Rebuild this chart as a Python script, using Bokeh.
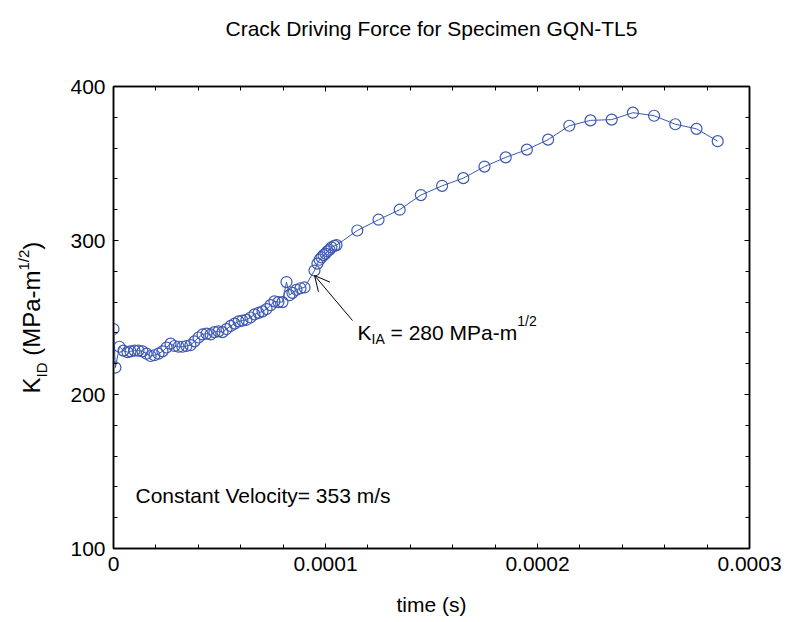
import math
from bokeh.plotting import figure
from bokeh.layouts import column, row
from bokeh.core.properties import value
from bokeh.models import (Range1d, FixedTicker, LinearAxis, Label, Arrow, OpenHead,
                          CustomJSTickFormatter, ColumnDataSource)
from bokeh.embed import file_html
from bokeh.resources import INLINE

# ---- data (time in s, K_ID in MPa-m^1/2) ----
time_s = [
    0.0e-6, 0.9e-6, 2.8e-6, 4.7e-6, 6.6e-6, 8.0e-6, 9.9e-6, 11.8e-6, 13.7e-6, 15.6e-6,
    17.5e-6, 19.3e-6, 21.2e-6, 23.1e-6, 25.0e-6, 26.9e-6, 28.8e-6, 30.7e-6, 32.5e-6, 34.4e-6,
    36.3e-6, 38.2e-6, 40.1e-6, 42.0e-6, 43.9e-6, 45.8e-6, 47.6e-6, 49.5e-6, 51.4e-6, 53.3e-6,
    55.2e-6, 57.1e-6, 59.0e-6, 60.8e-6, 62.7e-6, 64.6e-6, 66.5e-6, 68.4e-6, 70.3e-6, 72.2e-6,
    74.1e-6, 75.9e-6, 77.8e-6, 79.7e-6, 81.6e-6, 83.0e-6, 84.4e-6, 86.3e-6, 88.2e-6, 90.1e-6,
    94.8e-6, 96.2e-6, 97.2e-6, 98.1e-6, 99.1e-6, 100.0e-6, 100.9e-6, 101.9e-6, 102.8e-6,
    104.2e-6, 105.2e-6,
    115e-6, 125e-6, 135e-6, 145e-6, 155e-6, 165e-6, 175e-6, 185e-6, 195e-6, 205e-6,
    215e-6, 225e-6, 235e-6, 245e-6, 255e-6, 265e-6, 275e-6, 285e-6,
]
k_id = [
    242.5, 217.5, 231.0, 228.5, 227.5, 228.0, 228.5, 228.5, 228.0, 226.5,
    225.0, 225.5, 226.5, 228.0, 230.5, 233.0, 231.5, 231.0, 231.0, 231.5,
    232.0, 234.5, 237.0, 239.0, 239.5, 239.0, 240.5, 241.0, 240.5, 242.5,
    244.5, 246.0, 247.5, 248.0, 248.5, 250.0, 252.0, 253.0, 254.0, 255.5,
    258.0, 260.5, 260.0, 260.0, 273.0, 264.5, 266.0, 268.0, 269.0, 269.5,
    280.5, 285.0, 287.5, 289.0, 290.5, 291.5, 293.0, 294.0, 295.5,
    296.5, 297.0,
    306.5, 313.5, 320.0, 329.5, 335.5, 340.5, 348.0, 354.0, 359.0, 365.5,
    374.5, 378.0, 378.5, 383.0, 381.0, 375.5, 372.5, 364.5,
]

x_ticks = [0, 0.0001, 0.0002, 0.0003]
x_minor_ticks = [0.00002, 0.00004, 0.00006, 0.00008, 0.00012, 0.00014, 0.00016, 0.00018,
                 0.00022, 0.00024, 0.00026, 0.00028]
y_ticks = [100, 200, 300, 400]
y_minor_ticks = [120, 140, 160, 180, 220, 240, 260, 280, 320, 340, 360, 380]

title_text = "Crack Driving Force for Specimen GQN-TL5"
x_label = "time (s)"
velocity_text = "Constant Velocity= 353 m/s"

# ---- layout (global pixel geometry of the page) ----
W, H = 786, 622
TOP_H = 60          # title strip height
LEFT_W = 60         # y-label strip width
FL, FR, FT, FB = 113, 749, 86, 548   # frame edges in page pixels
X0, X1, Y0, Y1 = 0.0, 0.0003, 100, 400
FONT = "Liberation Sans"
BLUE = "#3c58b0"

def blank_fig(w, h, top=0, bottom=0):
    # a plain drawing strip whose y value equals the local pixel row
    f = figure(width=w, height=h, output_backend="svg", toolbar_location=None,
               x_range=Range1d(0, w), y_range=Range1d(h - bottom, top),
               min_border_left=0, min_border_right=0,
               min_border_top=top, min_border_bottom=bottom,
               x_axis_location=None, y_axis_location=None,
               background_fill_color="white", border_fill_color="white")
    f.outline_line_color = None
    f.grid.visible = False
    return f

# title strip
tfig = blank_fig(W, TOP_H)
tfig.text(x=[(FL + FR) / 2], y=[28], text=[title_text], text_font=value(FONT),
          text_font_size="21px", text_color="black", text_align="center",
          text_baseline="alphabetic")

# main plot
MW, MH = W - LEFT_W, H - TOP_H
BT, BB = FT - TOP_H, H - FB
p = figure(width=MW, height=MH, output_backend="svg", toolbar_location=None,
           x_range=Range1d(X0, X1), y_range=Range1d(Y0, Y1),
           min_border_left=FL - LEFT_W, min_border_right=W - FR, min_border_top=BT,
           min_border_bottom=BB, background_fill_color="white",
           border_fill_color="white")
p.grid.visible = False
p.outline_line_color = "black"
p.outline_line_width = 1.5

xfmt = CustomJSTickFormatter(code="return tick == 0 ? '0' : Number(tick.toFixed(6)).toString();")

def style_axis(ax, ticks, minor, show_labels):
    ax.ticker = FixedTicker(ticks=ticks, minor_ticks=minor)
    ax.major_tick_in = 5
    ax.major_tick_out = 0
    ax.minor_tick_in = 4
    ax.minor_tick_out = 0
    ax.axis_line_color = "black"
    ax.axis_line_width = 1.5
    ax.major_tick_line_color = "black"
    ax.minor_tick_line_color = "black"
    ax.major_label_text_font = FONT
    if show_labels:
        ax.major_label_text_font_size = "21px"
        ax.major_label_text_color = "black"
        ax.major_label_standoff = 8
    else:
        ax.major_label_text_font_size = "0px"
        ax.major_label_text_color = None
        ax.major_label_standoff = 0

style_axis(p.xaxis[0], x_ticks, x_minor_ticks, True)
p.xaxis[0].formatter = xfmt
p.xaxis[0].axis_label = x_label
p.xaxis[0].axis_label_text_font = FONT
p.xaxis[0].axis_label_text_font_size = "21px"
p.xaxis[0].axis_label_text_font_style = "normal"
p.xaxis[0].axis_label_text_color = "black"
p.xaxis[0].axis_label_standoff = 19
style_axis(p.yaxis[0], y_ticks, y_minor_ticks, True)

top = LinearAxis()
style_axis(top, x_ticks, x_minor_ticks, False)
p.add_layout(top, "above")
right = LinearAxis()
style_axis(right, y_ticks, y_minor_ticks, False)
p.add_layout(right, "right")

src = ColumnDataSource(dict(t=time_s, k=k_id))
p.line("t", "k", source=src, line_color=BLUE, line_width=1)
p.scatter("t", "k", source=src, marker="circle", size=11, line_color=BLUE,
          line_width=1.2, fill_alpha=0)

# ---- in-frame annotation helpers (page pixel positions) ----
def label(text, px, py, size, align="left", baseline="alphabetic", angle=0.0):
    p.add_layout(Label(x=X0, y=Y0, x_offset=px - FL, y_offset=FB - py, text=text,
                       text_font=FONT, text_font_size=f"{size}px", text_color="black",
                       text_align=align, text_baseline=baseline, angle=angle))

def px2data(px, py):
    return (X0 + (px - FL) / (FR - FL) * (X1 - X0), Y0 + (FB - py) / (FB - FT) * (Y1 - Y0))

label(velocity_text, 135, 495, 21)

big, small = 21, 14
kx, ky = 357, 332
label("K", kx, ky, big)
label("IA", kx + 0.667 * big, ky + 6, small)
x2 = kx + 0.667 * big + 0.945 * small
label("= 280 MPa-m", x2 + 0.278 * big, ky, big)
label("1/2", x2 + 6.308 * big, ky - 12, small)

xs, ys = px2data(352, 320)
xe, ye = px2data(314, 275)
p.add_layout(Arrow(end=OpenHead(size=15, line_width=1, line_color="black"),
                   x_start=xs, y_start=ys, x_end=xe, y_end=ye,
                   line_color="black", line_width=1))

# ---- y-label strip: K_ID (MPa-m^1/2), rotated ----
lfig = blank_fig(LEFT_W, MH, top=BT, bottom=BB)
yb, ys_ = 24, 15
bx = 31
y0 = 393 - TOP_H
pieces = [
    ("K", bx, yb, 0.667 * yb),
    ("ID", bx + 10, ys_, 1.0 * ys_),
    ("(MPa-m", bx, yb, 3.555 * yb),
    ("1/2", bx - 8, ys_, 1.390 * ys_),
    (")", bx, yb, 0.333 * yb),
]
cur = y0
for txt, xx, sz, w in pieces:
    if txt.startswith("("):
        cur -= 0.278 * yb
    lfig.text(x=[xx], y=[cur], text=[txt], text_font=value(FONT),
              text_font_size=f"{sz}px", text_color="black", text_align="left",
              text_baseline="alphabetic", angle=math.pi / 2)
    cur -= w

layout = column(tfig, row(lfig, p))
open("out.html", "w").write(file_html(layout, INLINE))
